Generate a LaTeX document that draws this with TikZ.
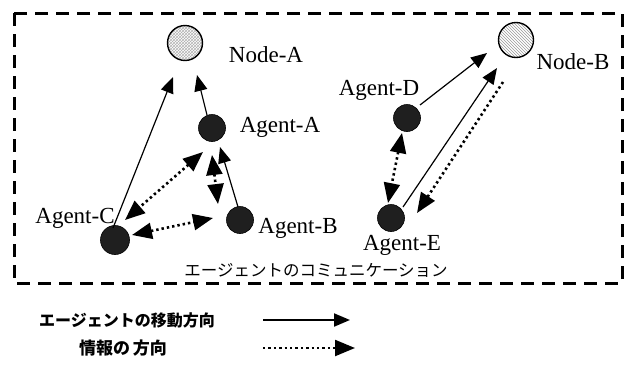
\documentclass[tikz,border=0pt]{standalone}
\usepackage{fontspec}
\setmainfont{Liberation Serif}
\newfontfamily\jp{Noto Sans CJK JP}
\usetikzlibrary{arrows.meta,calc,patterns}
\begin{document}
\begin{tikzpicture}[x=1pt,y=-1pt,
  agent/.style={circle,fill=black!88,draw=black,line width=0.6pt,minimum size=27pt,inner sep=0pt},
  hostA/.style={circle,draw=black,line width=1.4pt,minimum size=35pt,inner sep=0pt,pattern=crosshatch,pattern color=black!30},
  hostB/.style={circle,draw=black,line width=1.4pt,minimum size=35pt,inner sep=0pt,pattern=north west lines,pattern color=black!40},
  lbl/.style={font=\fontsize{23}{25}\selectfont,inner sep=0pt},
  mtip/.tip={Triangle[length=16pt,width=13pt]},
  itip/.tip={Triangle[length=20pt,width=16pt]},
  move/.style={line width=1.2pt,-mtip},
  info/.style={line width=2.6pt,dash pattern=on 2.4pt off 3pt,-itip},
  infob/.style={line width=2.6pt,dash pattern=on 2.4pt off 3pt,itip-itip},
  frame/.style={line width=3pt,dash pattern=on 13pt off 8pt}]
\useasboundingbox (0,0) rectangle (631,370);
\draw[frame] (14,13) rectangle (622,283);
% nodes
\node[hostA] (NA) at (185,43) {};
\node[hostB] (NB) at (516,40) {};
\node[agent] (AA) at (212,128) {};
\node[agent] (AB) at (240,220) {};
\node[agent,minimum size=29pt] (AC) at (115,240) {};
\node[agent] (AD) at (407,118) {};
\node[agent] (AE) at (391,218) {};
% labels
\node[lbl] (lNA) at (266,55) {Node-A};
\node[lbl] (lAA) at (280,127) {Agent-A};
\node[lbl] (lAB) at (298,228) {Agent-B};
\node[lbl] (lAC) at (75,218) {Agent-C};
\node[lbl] (lNB) at (573,62) {Node-B};
\node[lbl] (lAD) at (379,90) {Agent-D};
\node[lbl] (lAE) at (402,245) {Agent-E};
\node[inner sep=0pt,font=\jp\fontsize{16.5}{18}\selectfont] (cap) at (316,270) {エージェントのコミュニケーション};
% movement arrows
\draw[move] ($(AC)+(-2,-12)$) -- ($(NA)+(-12,34)$);
\draw[move] ($(AA)+(-5,-13)$) -- ($(NA)+(12,32)$);
\draw[move] ($(AB)+(-2,-13)$) -- ($(AA)+(8,19)$);
\draw[move] ($(AD)+(13,-13)$) -- ($(NB)+(-29,13)$);
\draw[move] ($(AE)+(12,-11)$) -- ($(NB)+(-19,28)$);
% information arrows
\draw[infob] ($(AA)+(-9,24)$) -- ($(AC)+(10,-20)$);
\draw[infob] ($(AA)+(0,27)$) -- ($(AB)+(-22,-16)$);
\draw[infob] ($(AC)+(17,-5)$) -- ($(AB)+(-27,-2)$);
\draw[info] ($(NB)+(-13,42)$) -- ($(AE)+(26,-5)$);
\draw[infob] ($(AD)+(-5,15)$) -- ($(AE)+(-3,-15)$);
% legend
\node[inner sep=0pt,font=\jp\bfseries\fontsize{16}{18}\selectfont] (leg1) at (127,320) {エージェントの移動方向};
\node[inner sep=0pt,font=\jp\bfseries\fontsize{17}{18}\selectfont] (leg2) at (123,348) {情報の\,方向};
\coordinate (m1) at (263,320);
\coordinate (m2) at (350,320);
\coordinate (i1) at (263,348);
\coordinate (i2) at (355,348);
\draw[move,line width=2pt] (m1) -- (m2);
\draw[info,line width=2.2pt] (i1) -- (i2);
\end{tikzpicture}
\end{document}
